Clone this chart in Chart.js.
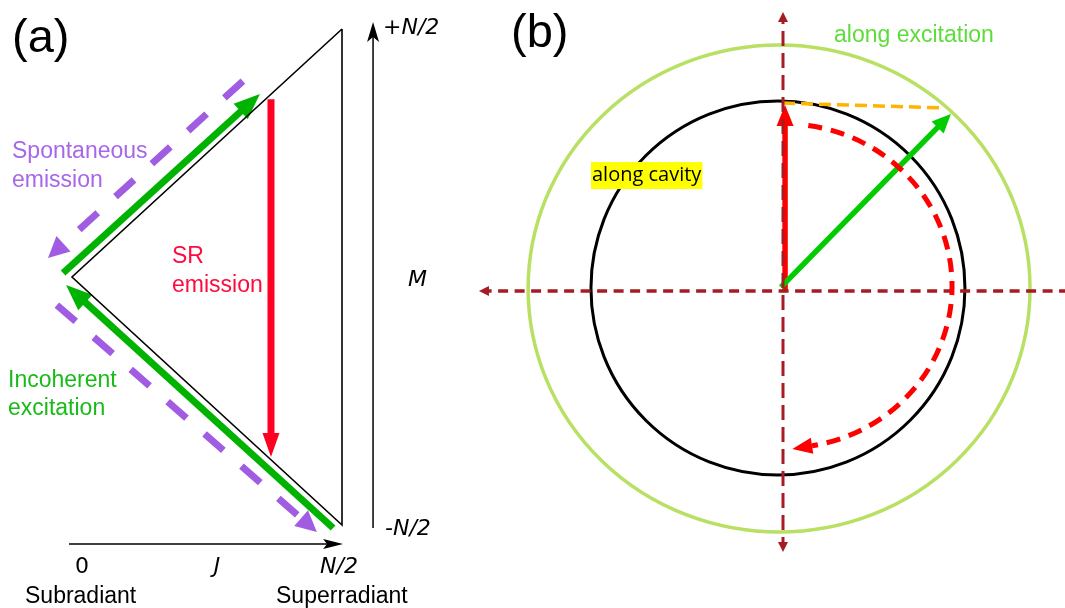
<!DOCTYPE html>
<html>
<head>
<meta charset="utf-8">
<script src="https://cdn.jsdelivr.net/npm/chart.js@4/dist/chart.umd.min.js"></script>
<style>
  html, body { margin: 0; padding: 0; background: #fff; }
  #wrap { position: relative; width: 1065px; height: 608px; overflow: hidden; }
  #pa { position: absolute; left: 0; top: 0; }
  #pb { position: absolute; left: 470px; top: 0; }
</style>
</head>
<body>
<div id="wrap">
  <canvas id="pa" width="470" height="608"></canvas>
  <canvas id="pb" width="595" height="608"></canvas>
</div>
<script>
// ---------- Panel (a): Dicke states in the (J, M) plane, with N/2 = 1 ----------
const ladderEdge       = [[1, 1], [0, 0], [1, -1], [1, 1]];
const axisJ            = [[-0.011, -1.077], [1.004, -1.077]];
const axisM            = [[1.115, -1.012], [1.115, 1.028]];
const srEmission       = [[0.737, 0.717], [0.737, -0.726]];
const excitationUp     = [[-0.033, 0.016], [0.696, 0.738]];
const excitationDown   = [[0.967, -1.012], [-0.022, -0.032]];
const spontaneousUpper = [[0.633, 0.790], [-0.089, 0.077]];
const spontaneousLower = [[-0.056, -0.113], [0.907, -1.028]];
const mTickLabels      = ['+N/2', '-N/2'];
const jTickLabels      = ['0', 'J', 'N/2'];
const jEndLabels       = ['Subradiant', 'Superradiant'];

// ---------- Panel (b): Bloch-like picture, cavity ring radius = 1 ----------
const axisH          = [[1.53, 0], [-1.626, 0]];
const axisV          = [[0, -1.396], [0, 1.492]];
const cavityVec      = [[0.011, 0], [0.011, 0.995]];
const excitationVec  = [[-0.011, 0.021], [0.898, 0.947]];
const projection     = [[0, 1.005], [0.866, 0.979]];
const ringCenters    = [[-0.021, 0.013], [-0.027, 0.016]];   // excitation ring, cavity ring
const ringRadii      = [[1.342, 1.302], [1.0, 1.0]];
const precessCenter  = [0.011, 0.027];
const precessRadii   = [0.893, 0.866];
const precessSweep   = [82, -80.7];                          // degrees, clockwise sweep

const pts = a => a.map(p => ({ x: p[0], y: p[1] }));

function seg(data, color, width, extra) {
  return Object.assign({
    data: pts(data), showLine: true, borderColor: color, backgroundColor: color,
    borderWidth: width, pointRadius: 0, pointHoverRadius: 0, tension: 0, fill: false,
    borderCapStyle: 'butt', borderJoinStyle: 'miter'
  }, extra || {});
}

function headGeom(p, atStart) {
  const n = p.length;
  const tip = atStart ? p[0] : p[n - 1];
  const prev = atStart ? p[1] : p[n - 2];
  let dx = tip.x - prev.x, dy = tip.y - prev.y;
  const d = Math.hypot(dx, dy) || 1;
  return { tx: tip.x, ty: tip.y, dx: dx / d, dy: dy / d };
}

function drawHead(ctx, tx, ty, dx, dy, h, color) {
  const px = -dy, py = dx;
  const bx = tx - dx * h.len, by = ty - dy * h.len;
  const notch = h.notch || 0;
  ctx.fillStyle = color;
  ctx.beginPath();
  ctx.moveTo(tx, ty);
  ctx.lineTo(bx + px * h.wid / 2, by + py * h.wid / 2);
  ctx.lineTo(bx + dx * notch, by + dy * notch);
  ctx.lineTo(bx - px * h.wid / 2, by - py * h.wid / 2);
  ctx.closePath();
  ctx.fill();
}

// Shafts stop at the arrowhead base; heads are filled triangles at the segment ends
const arrowHeads = {
  id: 'arrowHeads',
  beforeDatasetDraw(chart, args) {
    const ds = chart.data.datasets[args.index];
    if (!ds.heads) return;
    const ctx = chart.ctx;
    ctx.save();
    const p = args.meta.data;
    for (const h of ds.heads) {
      const g = headGeom(p, h.at === 'start');
      const L = h.len - (h.notch || 0) - 1;
      const bx = g.tx - g.dx * L, by = g.ty - g.dy * L;
      const px = -g.dy, py = g.dx, B = 4000;
      ctx.beginPath();
      ctx.moveTo(bx + px * B, by + py * B);
      ctx.lineTo(bx - px * B, by - py * B);
      ctx.lineTo(bx - px * B - g.dx * B, by - py * B - g.dy * B);
      ctx.lineTo(bx + px * B - g.dx * B, by + py * B - g.dy * B);
      ctx.closePath();
      ctx.clip();
    }
  },
  afterDatasetDraw(chart, args) {
    const ds = chart.data.datasets[args.index];
    if (!ds.heads) return;
    const ctx = chart.ctx;
    ctx.restore();
    const p = args.meta.data;
    ctx.save();
    for (const h of ds.heads) {
      const g = headGeom(p, h.at === 'start');
      drawHead(ctx, g.tx, g.ty, g.dx, g.dy, h, ds.headColor || ds.borderColor);
    }
    ctx.restore();
  }
};

function labelPlugin(items) {
  return {
    id: 'labels',
    afterDraw(chart) {
      const ctx = chart.ctx, xs = chart.scales.x, ys = chart.scales.y;
      ctx.save();
      ctx.textBaseline = 'alphabetic';
      for (const it of items) {
        ctx.font = it.font;
        ctx.textAlign = it.align || 'left';
        const x = xs.getPixelForValue(it.at[0]);
        const y = ys.getPixelForValue(it.at[1]);
        if (it.bg) {
          const w = ctx.measureText(it.text).width;
          ctx.fillStyle = it.bg;
          ctx.fillRect(x - 1, y - 19, w + 2, 27);
        }
        ctx.fillStyle = it.color;
        ctx.fillText(it.text, x, y);
      }
      ctx.restore();
    }
  };
}

function ellipsePx(chart, c, r) {
  const xs = chart.scales.x, ys = chart.scales.y;
  const cx = xs.getPixelForValue(c[0]), cy = ys.getPixelForValue(c[1]);
  const rx = Math.abs(xs.getPixelForValue(c[0] + r[0]) - cx);
  const ry = Math.abs(ys.getPixelForValue(c[1] + r[1]) - cy);
  return { cx, cy, rx, ry };
}

// Rings behind the vectors, the dashed precession arc on top
const ringPlugin = {
  id: 'rings',
  beforeDatasetsDraw(chart) {
    const ctx = chart.ctx;
    const styles = [{ color: '#b8e063', width: 3.5 }, { color: '#000000', width: 3 }];
    ctx.save();
    ringCenters.forEach((c, i) => {
      const e = ellipsePx(chart, c, ringRadii[i]);
      ctx.strokeStyle = styles[i].color;
      ctx.lineWidth = styles[i].width;
      ctx.beginPath();
      ctx.ellipse(e.cx, e.cy, e.rx, e.ry, 0, 0, Math.PI * 2);
      ctx.stroke();
    });
    ctx.restore();
  },
  afterDatasetsDraw(chart) {
    const ctx = chart.ctx;
    const e = ellipsePx(chart, precessCenter, precessRadii);
    const a0 = -precessSweep[0] * Math.PI / 180;
    const a1 = -precessSweep[1] * Math.PI / 180;
    ctx.save();
    ctx.strokeStyle = '#ff0000';
    ctx.lineWidth = 5;
    ctx.lineCap = 'butt';
    ctx.setLineDash([14, 9]);
    ctx.beginPath();
    ctx.ellipse(e.cx, e.cy, e.rx, e.ry, 0, a0, a1, false);
    ctx.stroke();
    ctx.setLineDash([]);
    const ex = e.cx + e.rx * Math.cos(a1), ey = e.cy + e.ry * Math.sin(a1);
    let dx = -e.rx * Math.sin(a1), dy = e.ry * Math.cos(a1);
    const d = Math.hypot(dx, dy); dx /= d; dy /= d;
    const h = { len: 20, wid: 16 };
    drawHead(ctx, ex + dx * h.len, ey + dy * h.len, dx, dy, h, '#ff0000');
    ctx.restore();
  }
};

function makeChart(id, xr, yr, datasets, plugins) {
  return new Chart(document.getElementById(id), {
    type: 'scatter',
    data: { datasets },
    options: {
      responsive: false, animation: false, devicePixelRatio: 1, events: [],
      layout: { padding: 0 },
      plugins: { legend: { display: false }, tooltip: { enabled: false } },
      scales: {
        x: { type: 'linear', min: xr[0], max: xr[1], display: false },
        y: { type: 'linear', min: yr[0], max: yr[1], display: false }
      }
    },
    plugins: [arrowHeads].concat(plugins)
  });
}

const SANS = '"Liberation Sans", Arial, sans-serif';
const OBL = 'italic 22px "DejaVu Sans", sans-serif';
const PURPLE = '#a05de2', GREEN_A = '#00b300', RED_A = '#ff0022';

// Panel (a)
makeChart('pa', [-0.26667, 1.47407], [-1.33468, 1.11694], [
  seg(ladderEdge, '#000', 1.6),
  seg(axisJ, '#000', 1.5, { heads: [{ at: 'end', len: 20, wid: 10, notch: 4 }] }),
  seg(axisM, '#000', 1.5, { heads: [{ at: 'end', len: 20, wid: 12, notch: 5 }] }),
  seg(spontaneousUpper, PURPLE, 7, { borderDash: [25, 24], heads: [{ at: 'end', len: 21, wid: 21 }] }),
  seg(spontaneousLower, PURPLE, 7, { borderDash: [25, 24], heads: [{ at: 'end', len: 21, wid: 21 }] }),
  seg(excitationUp, GREEN_A, 7, { heads: [{ at: 'end', len: 26, wid: 21 }] }),
  seg(excitationDown, GREEN_A, 7, { heads: [{ at: 'end', len: 26, wid: 21 }] }),
  seg(srEmission, RED_A, 7, { heads: [{ at: 'end', len: 24, wid: 17 }] })
], [labelPlugin([
  { text: '(a)', at: [-0.2222, 0.9073], font: '47px ' + SANS, color: '#000' },
  { text: mTickLabels[0], at: [1.1519, 0.9798], font: OBL, color: '#000' },
  { text: mTickLabels[1], at: [1.1593, -1.0403], font: OBL, color: '#000' },
  { text: 'M', at: [1.2444, -0.0363], font: OBL, color: '#000' },
  { text: jTickLabels[0], at: [0.0370, -1.1935], font: '22px "DejaVu Sans", sans-serif', color: '#000', align: 'center' },
  { text: jTickLabels[1], at: [0.5370, -1.1935], font: OBL, color: '#000', align: 'center' },
  { text: jTickLabels[2], at: [0.9889, -1.1935], font: OBL, color: '#000', align: 'center' },
  { text: jEndLabels[0], at: [-0.1741, -1.3145], font: '23px ' + SANS, color: '#000' },
  { text: jEndLabels[1], at: [0.7556, -1.3145], font: '23px ' + SANS, color: '#000' },
  { text: 'Spontaneous', at: [-0.2222, 0.4798], font: '23px ' + SANS, color: '#a866e8' },
  { text: 'emission', at: [-0.2222, 0.3629], font: '23px ' + SANS, color: '#a866e8' },
  { text: 'SR', at: [0.3704, 0.0565], font: '23px ' + SANS, color: '#ff0a3c' },
  { text: 'emission', at: [0.3704, -0.0605], font: '23px ' + SANS, color: '#ff0a3c' },
  { text: 'Incoherent', at: [-0.2370, -0.4435], font: '23px ' + SANS, color: '#19bb19' },
  { text: 'excitation', at: [-0.2370, -0.5565], font: '23px ' + SANS, color: '#19bb19' }
])]);

// Panel (b)
const AXIS_B = '#a51c24';
makeChart('pb', [-1.67380, 1.50802], [-1.69519, 1.55615], [
  seg(axisH, AXIS_B, 3.5, { borderDash: [10, 6.5], heads: [{ at: 'end', len: 10, wid: 10 }] }),
  seg(axisV, AXIS_B, 3, { borderDash: [15, 7], heads: [{ at: 'start', len: 10, wid: 10 }, { at: 'end', len: 10, wid: 10 }] }),
  seg(projection, '#ffb400', 3.5, { borderDash: [12, 6] }),
  seg(excitationVec, '#00cc00', 5.5, { heads: [{ at: 'end', len: 19, wid: 17 }] }),
  seg(cavityVec, '#ff0000', 5.5, { heads: [{ at: 'end', len: 21, wid: 17 }] })
], [ringPlugin, labelPlugin([
  { text: '(b)', at: [-1.4545, 1.3048], font: '47px ' + SANS, color: '#000' },
  { text: 'along excitation', at: [0.2727, 1.3316], font: '23px ' + SANS, color: '#5edc3a' },
  { text: 'along cavity', at: [-1.0214, 0.5882], font: '20px "Open Sans", sans-serif', color: '#000', bg: '#ffff00' }
])]);
</script>
</body>
</html>
